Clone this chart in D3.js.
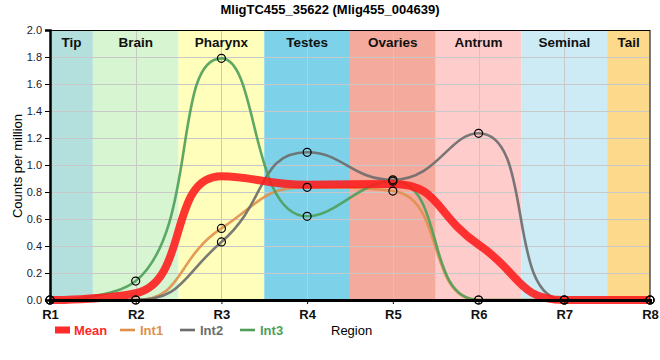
<!DOCTYPE html>
<html><head><meta charset="utf-8">
<script src="https://cdn.jsdelivr.net/npm/d3@7/dist/d3.min.js"></script>
<style>body{margin:0;background:#fff}svg{display:block;font-family:"Liberation Sans",Arial,sans-serif}</style>
</head><body>
<svg id="c" width="660" height="360"></svg>
<script>
const regions = ["R1","R2","R3","R4","R5","R6","R7","R8"];
const int1 = [0, 0, 0.53, 0.835, 0.807, 0, 0, 0];
const int2 = [0, 0, 0.43, 1.094, 0.89, 1.235, 0, 0];
const int3 = [0, 0.14, 1.79, 0.62, 0.88, 0, 0, 0];
const meanVals = [0, 0.05, 0.917, 0.853, 0.86, 0.41, 0, 0];
const yTicks = [0, 0.2, 0.4, 0.6, 0.8, 1.0, 1.2, 1.4, 1.6, 1.8, 2.0];
const tissues = ["Tip","Brain","Pharynx","Testes","Ovaries","Antrum","Seminal","Tail"];
const tissueSpan = [[0,0.5],[0.5,1.5],[1.5,2.5],[2.5,3.5],[3.5,4.5],[4.5,5.5],[5.5,6.5],[6.5,7]];
const tissueColors = ["#b3e0dc","#d6f5d0","#ffffbb","#7dd2ea","#f4aa9c","#ffcccc","#ccebf5","#fdd98b"];

// smooth bezier curve factory (segment-length-ratio control points, clamped at extrema)
function SmoothCurve(context) { this._context = context; }
SmoothCurve.prototype = {
  areaStart() {}, areaEnd() {},
  lineStart() { this._pts = []; },
  point(x, y) { this._pts.push([+x, +y]); },
  lineEnd() {
    const p = this._pts, ctx = this._context, smooth = 0.5, n = p.length;
    if (!n) return;
    let cpx0, cpy0, prevX, prevY;
    for (let k = 0; k < n; k++) {
      const x = p[k][0], y = p[k][1];
      if (k === 0) { ctx.moveTo(x, y); cpx0 = x; cpy0 = y; }
      else {
        let cpx1, cpy1, nx0, ny0;
        if (k === n - 1) { cpx1 = x; cpy1 = y; nx0 = x; ny0 = y; }
        else {
          const nextX = p[k+1][0], nextY = p[k+1][1];
          let vx = nextX - prevX, vy = nextY - prevY;
          const lp = Math.hypot(x - prevX, y - prevY), ln = Math.hypot(nextX - x, nextY - y);
          const r = ln / (ln + lp);
          nx0 = x + vx * smooth * r; ny0 = y + vy * smooth * r;
          nx0 = Math.min(nx0, Math.max(nextX, x)); ny0 = Math.min(ny0, Math.max(nextY, y));
          nx0 = Math.max(nx0, Math.min(nextX, x)); ny0 = Math.max(ny0, Math.min(nextY, y));
          vx = nx0 - x; vy = ny0 - y;
          cpx1 = x - vx * lp / ln; cpy1 = y - vy * lp / ln;
          cpx1 = Math.min(cpx1, Math.max(prevX, x)); cpy1 = Math.min(cpy1, Math.max(prevY, y));
          cpx1 = Math.max(cpx1, Math.min(prevX, x)); cpy1 = Math.max(cpy1, Math.min(prevY, y));
          vx = x - cpx1; vy = y - cpy1;
          nx0 = x + vx * ln / lp; ny0 = y + vy * ln / lp;
        }
        ctx.bezierCurveTo(cpx0, cpy0, cpx1, cpy1, x, y);
        cpx0 = nx0; cpy0 = ny0;
      }
      prevX = x; prevY = y;
    }
  }
};
const curveSmooth = ctx => new SmoothCurve(ctx);

const svg = d3.select("#c");
const L = 50, R = 650, T = 30, B = 300;
const x = d3.scaleLinear().domain([0, 7]).range([L, R]);
const y = d3.scaleLinear().domain([0, 2]).range([B, T]);

// bands
svg.append("g").selectAll("rect").data(tissues).join("rect")
  .attr("x", (d,i) => x(tissueSpan[i][0]))
  .attr("width", (d,i) => x(tissueSpan[i][1]) - x(tissueSpan[i][0]))
  .attr("y", T).attr("height", B - T)
  .attr("fill", (d,i) => tissueColors[i]);

// grid
const grid = svg.append("g").attr("stroke", "#c8c8c8").attr("stroke-width", 1);
grid.selectAll("line.h").data(yTicks.slice(1)).join("line").attr("class","h")
  .attr("x1", L).attr("x2", R).attr("y1", d => Math.round(y(d)) + 0.5).attr("y2", d => Math.round(y(d)) + 0.5);
grid.selectAll("line.v").data(regions.slice(1, -1)).join("line").attr("class","v")
  .attr("y1", T).attr("y2", B).attr("x1", (d,i) => Math.round(x(i+1)) + 0.5).attr("x2", (d,i) => Math.round(x(i+1)) + 0.5);

// band labels
svg.append("g").selectAll("text").data(tissues).join("text")
  .attr("x", (d,i) => (x(tissueSpan[i][0]) + x(tissueSpan[i][1])) / 2)
  .attr("y", 47).attr("text-anchor", "middle")
  .attr("font-size", 13.5).attr("font-weight", "bold").attr("fill", "#111")
  .text(d => d);

// lines
const line = d3.line().x((d,i) => x(i)).y(d => y(d)).curve(curveSmooth);
const series = [
  {name:"Int1", vals:int1, color:"#e0904a", w:2.6},
  {name:"Int2", vals:int2, color:"#6c6c6c", w:2.6},
  {name:"Int3", vals:int3, color:"#4e9f5a", w:2.6}
];
series.forEach(s => {
  svg.append("path").attr("d", line(s.vals)).attr("fill", "none")
    .attr("stroke", s.color).attr("stroke-width", s.w).attr("stroke-opacity", 0.9);
});
svg.append("path").attr("d", line(meanVals)).attr("fill", "none")
  .attr("stroke", "#ff1a1a").attr("stroke-width", 8).attr("stroke-opacity", 0.88);

// frame
svg.append("rect").attr("x", L + 0.5).attr("y", T + 0.5).attr("width", R - L - 0.5).attr("height", B - T - 0.5)
  .attr("fill", "none").attr("stroke", "#000").attr("stroke-width", 1);

// axes
const yAxis = svg.append("g").attr("transform", `translate(${L},0)`)
  .call(d3.axisLeft(y).tickValues(yTicks).tickFormat(d3.format(".1f")).tickSize(5));
yAxis.select(".domain").attr("stroke-width", 2.5);
yAxis.selectAll("text").attr("font-size", 11).attr("fill", "#1a1a2e").attr("font-family", "Liberation Sans, Arial, sans-serif");
const xAxis = svg.append("g").attr("transform", `translate(0,${B})`)
  .call(d3.axisBottom(x).tickValues(d3.range(8)).tickFormat(i => regions[i]).tickSize(4));
xAxis.select(".domain").attr("stroke-width", 3);
xAxis.selectAll("text").attr("font-size", 13).attr("font-weight", "bold").attr("fill", "#111").attr("dy", "0.9em")
  .attr("font-family", "Liberation Sans, Arial, sans-serif");

// points
series.forEach(s => {
  svg.append("g").selectAll("circle").data(s.vals).join("circle")
    .attr("cx", (d,i) => x(i)).attr("cy", d => y(d)).attr("r", 4)
    .attr("fill", "none").attr("stroke", "#000").attr("stroke-width", 1.2);
});

// title & labels
svg.append("text").attr("x", 330).attr("y", 14).attr("text-anchor", "middle")
  .attr("font-size", 13).attr("font-weight", "bold").text("MligTC455_35622 (Mlig455_004639)");
svg.append("text").attr("transform", "translate(22,166) rotate(-90)").attr("text-anchor", "middle")
  .attr("font-size", 13).text("Counts per million");
svg.append("text").attr("x", 331).attr("y", 335).attr("font-size", 13).text("Region");

// legend
const leg = [
  {name:"Mean", color:"#ff2a2a", x:55, tx:74, w:7},
  {name:"Int1", color:"#e0904a", x:120, tx:140, w:2.6},
  {name:"Int2", color:"#6c6c6c", x:180, tx:200, w:2.6},
  {name:"Int3", color:"#4e9f5a", x:240, tx:260, w:2.6}
];
const lg = svg.append("g");
leg.forEach(l => {
  lg.append("line").attr("x1", l.x).attr("x2", l.x + 15).attr("y1", 330).attr("y2", 330)
    .attr("stroke", l.color).attr("stroke-width", l.w);
  lg.append("text").attr("x", l.tx).attr("y", 335).attr("font-size", 13).attr("font-weight", "bold")
    .attr("fill", l.color).text(l.name);
});
</script>
</body></html>
